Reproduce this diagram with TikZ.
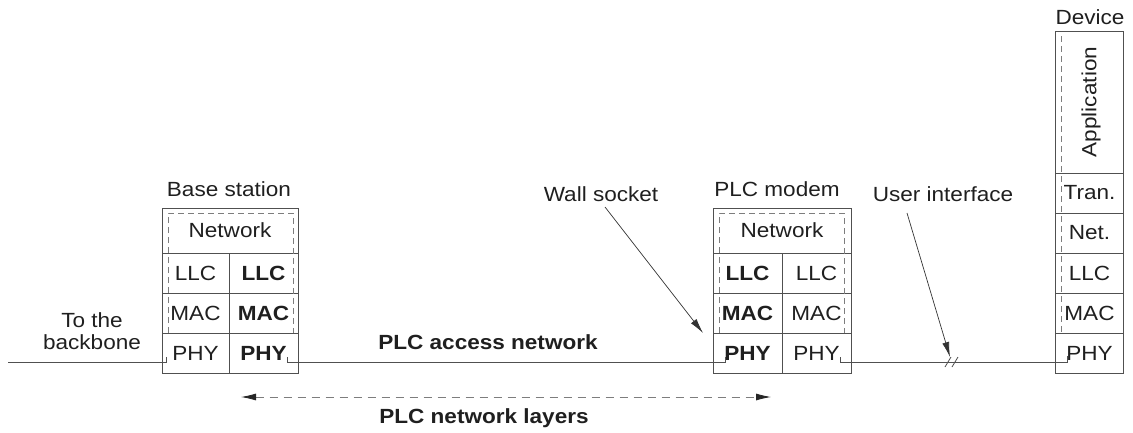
\documentclass[tikz,border=0pt]{standalone}
\usepackage{fontspec}
\setmainfont{Liberation Sans}[FakeStretch=1.1]
\usetikzlibrary{arrows.meta}
\definecolor{linecol}{RGB}{80,80,80}
\definecolor{dashcol}{RGB}{125,125,125}
\begin{document}
\begin{tikzpicture}[x=1pt,y=-1pt,
  every node/.style={font=\fontsize{20.5}{23}\selectfont, text=black!88},
  cell/.style={draw=linecol, line width=0.8pt, inner sep=0pt, minimum height=40pt},
  bcell/.style={cell, font=\fontsize{20.5}{23}\selectfont\bfseries},
  lbl/.style={inner sep=0pt},
  blbl/.style={inner sep=0pt, font=\fontsize{20.5}{23}\selectfont\bfseries},
  wire/.style={draw=linecol, line width=0.9pt},
  datapath/.style={draw=dashcol, line width=0.8pt, dash pattern=on 6pt off 4pt},
  pointer/.style={draw=black!80, line width=0.7pt, -{Latex[length=15pt,width=7pt]}},
  spanarrow/.style={draw=dashcol, line width=0.8pt, dash pattern=on 8pt off 6pt,
    {Latex[length=15pt,width=7pt,black!85]}-{Latex[length=15pt,width=7pt,black!85]}},
]
\path[use as bounding box] (0,0) rectangle (1133,432);

% ---------- Base station ----------
\node[lbl] (bslabel) at (229,189) {Base station};
\node[cell, minimum width=136pt, minimum height=45pt] (bsnet) at (230,230.5) {Network};
\node[cell, minimum width=67pt] (bsllcL) at (195.5,273) {LLC};
\node[bcell, minimum width=69pt] (bsllcR) at (263.5,273) {LLC};
\node[cell, minimum width=67pt] (bsmacL) at (195.5,313) {MAC};
\node[bcell, minimum width=69pt] (bsmacR) at (263.5,313) {MAC};
\node[cell, minimum width=67pt] (bsphyL) at (195.5,353) {PHY};
\node[bcell, minimum width=69pt] (bsphyR) at (263.5,353) {PHY};
\draw[datapath] (168,333) -- (168,213) -- (293,213) -- (293,333);

% ---------- PLC modem ----------
\node[lbl] (pmlabel) at (777,189) {PLC modem};
\node[cell, minimum width=138pt, minimum height=45pt] (pmnet) at (782,230.5) {Network};
\node[bcell, minimum width=69pt] (pmllcL) at (747.5,273) {LLC};
\node[cell, minimum width=69pt] (pmllcR) at (816.5,273) {LLC};
\node[bcell, minimum width=69pt] (pmmacL) at (747.5,313) {MAC};
\node[cell, minimum width=69pt] (pmmacR) at (816.5,313) {MAC};
\node[bcell, minimum width=69pt] (pmphyL) at (747.5,353) {PHY};
\node[cell, minimum width=69pt] (pmphyR) at (816.5,353) {PHY};
\draw[datapath] (719,333) -- (719,213) -- (844,213) -- (844,333);

% ---------- Device ----------
\node[lbl] (dvlabel) at (1090,17) {Device};
\node[cell, minimum width=68pt, minimum height=142pt] (dvapp) at (1089.5,102) {};
\node[lbl, rotate=90] (dvapptext) at (1091,102) {Application};
\node[cell, minimum width=68pt] (dvtran) at (1089.5,193) {Tran.};
\node[cell, minimum width=68pt] (dvnet) at (1089.5,233) {Net.};
\node[cell, minimum width=68pt] (dvllc) at (1089.5,273) {LLC};
\node[cell, minimum width=68pt] (dvmac) at (1089.5,313) {MAC};
\node[cell, minimum width=68pt] (dvphy) at (1089.5,353) {PHY};
\draw[datapath] (1061,36) -- (1061,333);

% ---------- Wires ----------
\coordinate (bbstart) at (8,362);
\coordinate (bsin) at (166,362);
\coordinate (bsintick) at (166,357);
\coordinate (bsouttick) at (287,357);
\coordinate (bsout) at (287,362);
\coordinate (pmin) at (725,362);
\coordinate (pmintick) at (725,357);
\coordinate (pmouttick) at (840,357);
\coordinate (pmout) at (840,362);
\coordinate (dvin) at (1067,362);
\coordinate (dvintick) at (1067,356);
\draw[wire] (bbstart) -- (bsin) -- (bsintick);
\draw[wire] (bsouttick) -- (bsout) -- (pmin) -- (pmintick);
\draw[wire] (pmouttick) -- (pmout) -- (dvin) -- (dvintick);
% break marks
\draw[wire, line width=0.8pt] (945,367) -- (951,357);
\draw[wire, line width=0.8pt] (952,367) -- (958,357);

% ---------- Labels and pointers ----------
\node[lbl, align=center] (backbone) at (92,331) {To the\\[-1pt]backbone};
\node[blbl] (accessnet) at (488,342) {PLC access network};
\node[lbl] (wslabel) at (601,194) {Wall socket};
\node[lbl] (uilabel) at (943,194) {User interface};
\coordinate (wstip) at (703,333);
\coordinate (wsstart) at (605,207);
\coordinate (uistart) at (907,213);
\coordinate (uitip) at (950,357);
\draw[pointer] (wsstart) -- (wstip);
\draw[pointer] (uistart) -- (uitip);

\coordinate (layL) at (241,397);
\coordinate (layR) at (771,397);
\draw[spanarrow] (layL) -- (layR);
\node[blbl] (layers) at (484,418) {PLC network layers};
\end{tikzpicture}
\end{document}
